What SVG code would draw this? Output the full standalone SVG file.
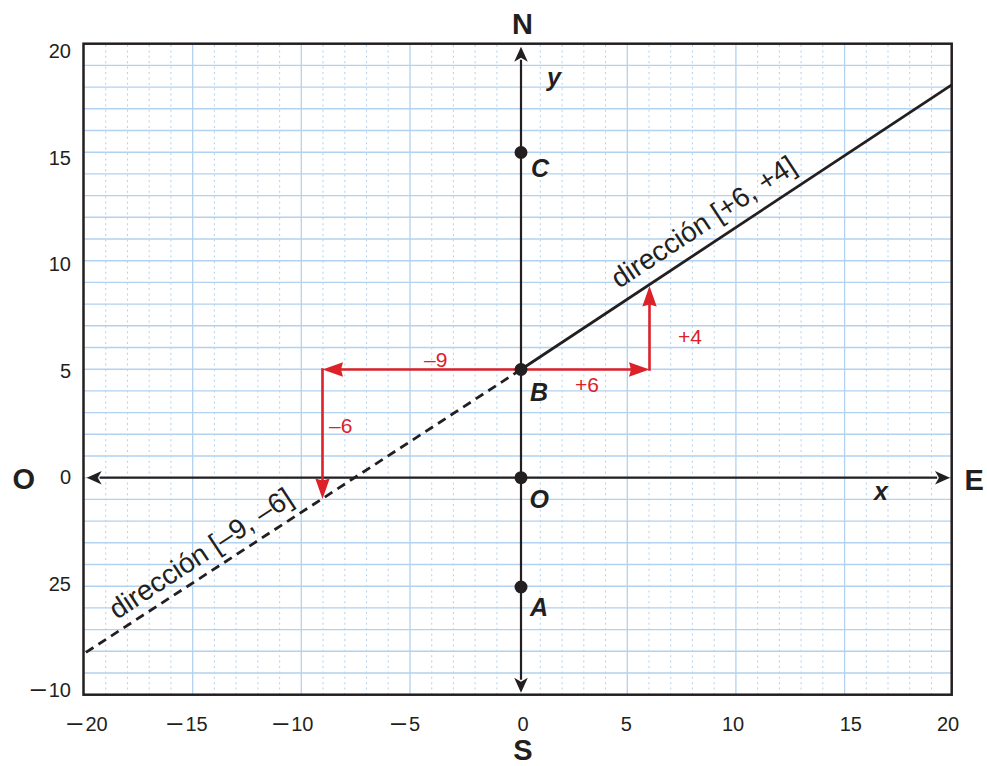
<svg xmlns="http://www.w3.org/2000/svg" width="987" height="766" viewBox="0 0 987 766">
<style>
.bg{fill:#ffffff}
.gh{stroke:#b3d2ef;stroke-width:1.4;fill:none}
.gv{stroke:#b3d2ef;stroke-width:1.3;fill:none}
.gd{stroke:#b6d4f0;stroke-width:1.1;fill:none;stroke-dasharray:2 3.4}
.frame{fill:none;stroke:#231f20;stroke-width:2.5}
.axis{stroke:#231f20;stroke-width:2.2;fill:none}
.dir{stroke:#231f20;stroke-width:2.8;fill:none}
.dash{stroke:#231f20;stroke-width:2.8;fill:none;stroke-dasharray:9 6}
.red{stroke:#dc2129;stroke-width:2.6;fill:none}
.dot{fill:#231f20}
.t{font-family:"Liberation Sans",Arial,sans-serif;fill:#231f20}
.tick{font-size:20px}
.card{font-size:29px;font-weight:bold}
.pt{font-size:25px;font-weight:bold;font-style:italic}
.rl{font-family:"Liberation Sans",Arial,sans-serif;font-size:21px;fill:#dc2129}
.dl{font-size:28px}
</style>
<defs>
<marker id="ah" markerUnits="userSpaceOnUse" markerWidth="40" markerHeight="40" refX="0" refY="0" viewBox="-20 -20 40 40" orient="auto" overflow="visible">
<path d="M13,0 L-2,-6.8 L2,0 L-2,6.8 Z" fill="#231f20"/>
</marker>
<marker id="ahs" markerUnits="userSpaceOnUse" markerWidth="40" markerHeight="40" refX="0" refY="0" viewBox="-20 -20 40 40" orient="auto-start-reverse" overflow="visible">
<path d="M13,0 L-2,-6.8 L2,0 L-2,6.8 Z" fill="#231f20"/>
</marker>
<marker id="rh" markerUnits="userSpaceOnUse" markerWidth="40" markerHeight="40" refX="0" refY="0" viewBox="-20 -20 40 40" orient="auto" overflow="visible">
<path d="M17,0 L-3.5,-7.2 L-1.5,0 L-3.5,7.2 Z" fill="#dc2129"/>
</marker>
</defs>
<rect class="bg" x="0" y="0" width="987" height="766"/>
<g id="grid">
<path class="gh" d="M83.5,65.4H951.7M83.5,87.1H951.7M83.5,108.8H951.7M83.5,130.5H951.7M83.5,152.2H951.7M83.5,173.9H951.7M83.5,195.6H951.7M83.5,217.3H951.7M83.5,239H951.7M83.5,260.7H951.7M83.5,282.4H951.7M83.5,304.1H951.7M83.5,325.8H951.7M83.5,347.5H951.7M83.5,369.2H951.7M83.5,390.9H951.7M83.5,412.6H951.7M83.5,434.3H951.7M83.5,456H951.7M83.5,477.7H951.7M83.5,499.4H951.7M83.5,521.1H951.7M83.5,542.8H951.7M83.5,564.5H951.7M83.5,586.2H951.7M83.5,607.9H951.7M83.5,629.6H951.7M83.5,651.3H951.7M83.5,673H951.7"/>
<path class="gv" d="M192.65,43.7V694.7M301.3,43.7V694.7M410,43.7V694.7M627.3,43.7V694.7M735.9,43.7V694.7M844.6,43.7V694.7"/>
<path class="gd" d="M105.7,45V694M127.5,45V694M149.2,45V694M170.9,45V694M214.4,45V694M236.1,45V694M257.8,45V694M279.6,45V694M323,45V694M344.8,45V694M366.5,45V694M388.2,45V694M431.7,45V694M453.4,45V694M475.1,45V694M496.9,45V694M540.3,45V694M562.1,45V694M583.8,45V694M605.5,45V694M649,45V694M670.7,45V694M692.4,45V694M714.2,45V694M757.6,45V694M779.4,45V694M801.1,45V694M822.8,45V694M866.3,45V694M888,45V694M909.7,45V694M931.5,45V694"/>
<rect class="frame" x="83.5" y="43.7" width="868.2" height="651"/>
</g>
<g id="tick-labels" class="t tick">
<text x="71" y="58.3" text-anchor="end">20</text>
<text x="71" y="165" text-anchor="end">15</text>
<text x="71" y="271" text-anchor="end">10</text>
<text x="71" y="377.7" text-anchor="end">5</text>
<text x="71" y="484.3" text-anchor="end">0</text>
<text x="71" y="590.7" text-anchor="end">25</text>
<text x="71" y="696.7" text-anchor="end"><tspan font-size="27">–</tspan><tspan dx="3">10</tspan></text>
<text x="87.5" y="731" text-anchor="middle"><tspan font-size="27">–</tspan><tspan dx="3">20</tspan></text>
<text x="187.5" y="731" text-anchor="middle"><tspan font-size="27">–</tspan><tspan dx="3">15</tspan></text>
<text x="293.3" y="731" text-anchor="middle"><tspan font-size="27">–</tspan><tspan dx="3">10</tspan></text>
<text x="405.5" y="731" text-anchor="middle"><tspan font-size="27">–</tspan><tspan dx="3">5</tspan></text>
<text x="523" y="731" text-anchor="middle">0</text>
<text x="626.2" y="731" text-anchor="middle">5</text>
<text x="733" y="731" text-anchor="middle">10</text>
<text x="850.8" y="731" text-anchor="middle">15</text>
<text x="948" y="731" text-anchor="middle">20</text>
</g>
<g id="connectors">
<path id="axis-x" class="axis" d="M99.7,477.7H937" marker-start="url(#ahs)" marker-end="url(#ah)"/>
<path id="axis-y" class="axis" d="M521,679.7V59.7" marker-start="url(#ahs)" marker-end="url(#ah)"/>
<path id="dir-pos" class="dir" d="M521,369.5L951.7,84.8"/>
<path id="dir-neg" class="dash" d="M521,369.5L84.5,653.3"/>
<path id="r-right" class="red" d="M521,369.5H632.5" marker-end="url(#rh)"/>
<path id="r-up" class="red" d="M649.5,370.8V303" marker-end="url(#rh)"/>
<path id="r-left" class="red" d="M521,369.5H339.5" marker-end="url(#rh)"/>
<path id="r-down" class="red" d="M322.5,368.2V482" marker-end="url(#rh)"/>
</g>
<g id="cardinal" class="t card">
<text x="522.5" y="34" text-anchor="middle">N</text>
<text x="523" y="759.5" text-anchor="middle">S</text>
<text x="12.5" y="488.5">O</text>
<text x="964.5" y="490">E</text>
</g>
<g id="axis-names" class="t pt">
<text x="547" y="85.5">y</text>
<text x="874" y="500">x</text>
</g>
<g id="node-C"><circle class="dot" cx="521" cy="152.5" r="6.5"/><text class="t pt" x="531" y="177">C</text></g>
<g id="node-B"><circle class="dot" cx="521" cy="369.5" r="6.5"/><text class="t pt" x="530" y="401">B</text></g>
<g id="node-O"><circle class="dot" cx="521" cy="477.7" r="6.5"/><text class="t pt" x="529.5" y="508">O</text></g>
<g id="node-A"><circle class="dot" cx="521" cy="587" r="6.5"/><text class="t pt" x="530" y="616">A</text></g>
<g id="red-labels">
<text class="rl" x="424" y="367.3">–9</text>
<text class="rl" x="575" y="392">+6</text>
<text class="rl" x="329" y="432.7">–6</text>
<text class="rl" x="678" y="344.3">+4</text>
</g>
<g id="direction-labels" class="t dl">
<text transform="translate(619,289) rotate(-33.4)">dirección [+6, +4]</text>
<text transform="translate(117,620) rotate(-33.4)">dirección [–9, –6]</text>
</g>
</svg>
